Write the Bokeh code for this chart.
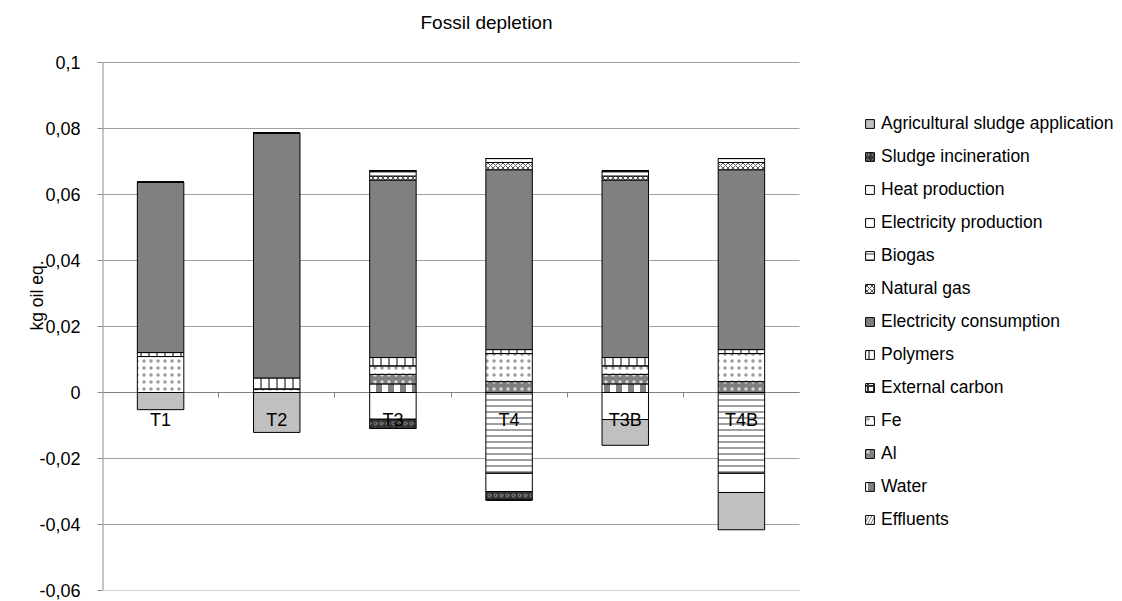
import math
from bokeh.plotting import figure
from bokeh.models import Range1d, FixedTicker, Legend, LegendItem, Label, ColumnDataSource
from bokeh.transform import stack
from bokeh.embed import file_html
from bokeh.resources import INLINE
from bokeh.core.properties import value

# ---------------- data ----------------
categories = ["T1", "T2", "T3", "T4", "T3B", "T4B"]

# series listed in stacking order (bottom -> top)
effluents        = [0.0,     0.0,     0.0,     0.0,     0.0,     0.0]
water            = [0.0,     0.0,     0.0026,  0.0,     0.0026,  0.0]
al               = [0.0,     0.0,     0.0029,  0.0033,  0.0029,  0.0033]
fe               = [0.0109,  0.0011,  0.0026,  0.0085,  0.0026,  0.0085]
external_carbon  = [0.0,     0.0,     0.0,     0.0,     0.0,     0.0]
polymers         = [0.0012,  0.0033,  0.0025,  0.0012,  0.0025,  0.0012]
elec_consumption = [0.0516,  0.0742,  0.0538,  0.0545,  0.0538,  0.0545]
natural_gas      = [0.0,     0.0,     0.0012,  0.0022,  0.0012,  0.0022]
biogas           = [0.0,     0.0,     0.0016, -0.0245,  0.0016, -0.0245]
elec_production  = [0.0,     0.0,     0.0,     0.0012,  0.0,     0.0012]
heat_production  = [0.0,     0.0,    -0.0081, -0.0055, -0.0082, -0.0058]
sludge_incin     = [0.0,     0.0,    -0.0028, -0.0026,  0.0,     0.0]
agri_sludge      = [-0.0052, -0.0121, 0.0,     0.0,    -0.0078, -0.0113]

series_names = ["Effluents", "Water", "Al", "Fe", "External carbon", "Polymers",
                "Electricity consumption", "Natural gas", "Biogas",
                "Electricity production", "Heat production", "Sludge incineration",
                "Agricultural sludge application"]
series_values = [effluents, water, al, fe, external_carbon, polymers, elec_consumption,
                 natural_gas, biogas, elec_production, heat_production, sludge_incin,
                 agri_sludge]

y_ticks = [-0.06, -0.04, -0.02, 0.0, 0.02, 0.04, 0.06, 0.08, 0.1]
y_tick_labels = ["-0,06", "-0,04", "-0,02", "0", "0,02", "0,04", "0,06", "0,08", "0,1"]

title_text = "Fossil depletion"
y_title = "kg oil eq."

# ---------------- styles ----------------
styles = {
    "Effluents": dict(fill_color="white", hatch_pattern="/", hatch_color="#808080", hatch_scale=6),
    "Water": dict(fill_color="white", hatch_pattern="|", hatch_color="#808080", hatch_scale=12, hatch_weight=6),
    "Al": dict(fill_color="#808080", hatch_pattern=".", hatch_color="#d8d8d8", hatch_scale=7),
    "Fe": dict(fill_color="white", hatch_pattern=".", hatch_color="#9a9a9a", hatch_scale=7),
    "External carbon": dict(fill_color="white", hatch_pattern="+", hatch_color="#333333", hatch_scale=6, hatch_weight=2),
    "Polymers": dict(fill_color="white", hatch_pattern="|", hatch_color="#000000", hatch_scale=8, hatch_weight=1),
    "Electricity consumption": dict(fill_color="#808080"),
    "Natural gas": dict(fill_color="white", hatch_pattern="x", hatch_color="#555555", hatch_scale=5),
    "Biogas": dict(fill_color="white", hatch_pattern="-", hatch_color="#808080", hatch_scale=6, hatch_weight=1.5),
    "Electricity production": dict(fill_color="white"),
    "Heat production": dict(fill_color="white"),
    "Sludge incineration": dict(fill_color="#333333", hatch_pattern="o", hatch_color="#8c8c8c", hatch_scale=6),
    "Agricultural sludge application": dict(fill_color="#c0c0c0"),
}

FONT = "Liberation Sans"
FS = "18px"
LFS = "17.5px"

# ---------------- layout numbers (pixels) ----------------
LEFT = 102          # frame left edge
PLOT_W = 697        # width of the category area
PLOT_TOP = 62       # pixel row of y = 0.1
PLOT_BOT = 590      # pixel row of y = -0.06
FRAME_W = 1016
FRAME_H = PLOT_BOT

y_lo, y_hi = y_ticks[0], y_ticks[-1]
per_px = (y_hi - y_lo) / (PLOT_BOT - PLOT_TOP)
n = len(categories)

xs = [i + 0.5 for i in range(n)]
data = {"x": xs}
pos_keys, neg_keys = [], []
for i, (name, vals) in enumerate(zip(series_names, series_values)):
    pk, nk = f"p{i}", f"n{i}"
    data[pk] = [max(v, 0.0) for v in vals]
    data[nk] = [min(v, 0.0) for v in vals]
    pos_keys.append(pk)
    neg_keys.append(nk)
source = ColumnDataSource(data)

p = figure(frame_width=FRAME_W, frame_height=FRAME_H,
           output_backend="svg", toolbar_location=None,
           x_range=Range1d(0, n * FRAME_W / PLOT_W),
           y_range=Range1d(y_lo, y_hi + PLOT_TOP * per_px),
           min_border_left=LEFT, min_border_top=0, min_border_right=0, min_border_bottom=11)
p.outline_line_color = None
p.background_fill_color = "white"
p.xgrid.grid_line_color = None
p.ygrid.grid_line_color = None

# gridlines and axis lines limited to the category area
p.segment(x0=[0] * len(y_ticks), x1=[n] * len(y_ticks), y0=y_ticks, y1=y_ticks,
          line_color="#a0a0a0", line_width=1)
p.segment(x0=[0], x1=[n], y0=[0.0], y1=[0.0], line_color="#808080", line_width=1)
p.segment(x0=[0], x1=[0], y0=[y_lo], y1=[y_hi], line_color="#8c8c8c", line_width=2)

pos_r = []
for i, name in enumerate(series_names):
    r = p.vbar(x="x", width=0.4,
               bottom=stack(*pos_keys[:i]) if i else 0,
               top=stack(*pos_keys[:i + 1]),
               source=source, line_color="#000000", line_width=1, **styles[name])
    pos_r.append(r)
for i, name in enumerate(series_names):
    p.vbar(x="x", width=0.4,
           bottom=stack(*neg_keys[:i]) if i else 0,
           top=stack(*neg_keys[:i + 1]),
           source=source, line_color="#000000", line_width=1, **styles[name])

# category labels at the zero line
lab_src = ColumnDataSource(dict(x=xs, y=[0.0] * n, t=categories))
p.text(x="x", y="y", text="t", source=lab_src, text_align="center", text_baseline="middle",
       y_offset=27, text_font=value(FONT), text_font_size=FS, text_color="black")

# y axis
p.yaxis.ticker = FixedTicker(ticks=y_ticks)
p.yaxis.major_label_overrides = {t: l for t, l in zip(y_ticks, y_tick_labels)}
p.yaxis.major_label_text_font = FONT
p.yaxis.major_label_text_font_size = FS
p.yaxis.major_label_text_color = "black"
p.yaxis.major_label_standoff = 17
p.yaxis.major_tick_out = 5
p.yaxis.major_tick_in = 0
p.yaxis.minor_tick_line_color = None
p.yaxis.axis_line_color = None
p.yaxis.major_tick_line_color = "#8c8c8c"
p.yaxis.axis_label = y_title
p.yaxis.axis_label_text_font = FONT
p.yaxis.axis_label_text_font_size = LFS
p.yaxis.axis_label_text_font_style = "normal"
p.yaxis.axis_label_text_color = "black"
p.yaxis.axis_label_standoff = -11

# x axis: only the small boundary ticks on the zero line
p.xaxis.fixed_location = 0
p.xaxis.ticker = FixedTicker(ticks=list(range(1, n)))
p.xaxis.major_label_overrides = {k: " " for k in range(1, n)}
p.xaxis.major_label_text_font_size = "1px"
p.xaxis.major_label_standoff = 0
p.xaxis.major_tick_out = 5
p.xaxis.major_tick_in = 0
p.xaxis.minor_tick_line_color = None
p.xaxis.axis_line_color = None
p.xaxis.major_tick_line_color = "#808080"

# legend (top item first)
items = [LegendItem(label=name, renderers=[r]) for name, r in zip(series_names, pos_r)][::-1]
legend = Legend(items=items, location=(762, 60), padding=0, margin=0,
                glyph_width=11, glyph_height=11, label_standoff=6,
                label_height=21, spacing=12,
                label_text_font=FONT, label_text_font_size=LFS, label_text_color="black",
                border_line_color=None, background_fill_alpha=0)
p.add_layout(legend, "center")

# title
p.add_layout(Label(x=384, y=FRAME_H - 22, x_units="screen", y_units="screen", text=title_text,
                   text_align="center", text_baseline="middle",
                   text_font=FONT, text_font_size="19px", text_color="black"))

open("out.html", "w").write(file_html(p, INLINE))
